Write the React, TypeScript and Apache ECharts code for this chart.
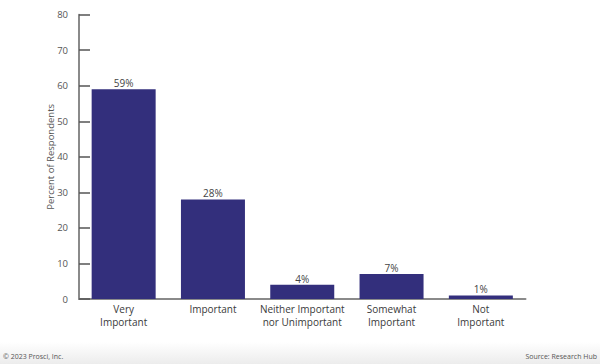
import React, { useEffect, useRef } from "react";
import * as echarts from "echarts";

const categories = ["Very\nImportant", "Important", "Neither Important\nnor Unimportant", "Somewhat\nImportant", "Not\nImportant"];
const values = [59, 28, 4, 7, 1];
const yTicks = { min: 0, max: 80, interval: 10 };
const yAxisName = "Percent of Respondents";
const footerLeft = "© 2023 Prosci, Inc.";
const footerRight = "Source: Research Hub";

export default function App() {
  const ref = useRef<HTMLDivElement>(null);
  useEffect(() => {
    if (!ref.current) return;
    const chart = echarts.init(ref.current, null, { renderer: "svg" });
    const font = "'Open Sans', 'Noto Sans', sans-serif";
    chart.setOption({
      animation: false,
      grid: { left: 79, right: 74.5, top: 14.7, bottom: 65, containLabel: false },
      xAxis: {
        type: "category",
        data: categories,
        axisLine: { lineStyle: { color: "#8a8a8a", width: 2 } },
        axisTick: { show: false },
        axisLabel: { color: "#3a3a3a", fontSize: 10, fontFamily: font, lineHeight: 12.5, margin: 4, interval: 0 },
      },
      yAxis: {
        type: "value",
        min: yTicks.min,
        max: yTicks.max,
        interval: yTicks.interval,
        name: yAxisName,
        nameLocation: "middle",
        nameGap: 24,
        nameMoveOverlap: false,
        nameTextStyle: { color: "#555", fontSize: 9.5, fontFamily: font },
        axisLine: { show: true, lineStyle: { color: "#8a8a8a", width: 2 } },
        axisTick: { show: true, inside: true, length: 11, lineStyle: { color: "#555", width: 1.5 } },
        axisLabel: { color: "#555", fontSize: 9.5, fontFamily: font, margin: 11 },
        splitLine: { show: false },
      },
      series: [
        {
          type: "bar",
          data: values,
          barWidth: 64,
          itemStyle: { color: "#332f7c" },
          label: {
            show: true,
            position: "top",
            formatter: "{c}%",
            color: "#444",
            fontSize: 10,
            fontFamily: font,
            distance: 1,
          },
        },
      ],
      graphic: [
        {
          type: "rect",
          left: 0,
          bottom: 0,
          shape: { width: 600, height: 22 },
          style: {
            fill: new echarts.graphic.LinearGradient(0, 0, 0, 1, [
              { offset: 0, color: "#ffffff" },
              { offset: 1, color: "#ececec" },
            ]),
          },
          z: -1,
        },
        {
          type: "text",
          left: 3,
          top: 353,
          style: { text: footerLeft, fill: "#555", fontSize: 7, fontFamily: font },
        },
        {
          type: "text",
          right: 3,
          top: 353,
          style: { text: footerRight, fill: "#555", fontSize: 7, fontFamily: font },
        },
      ],
    });
    return () => chart.dispose();
  }, []);
  return <div ref={ref} style={{ width: 600, height: 364, position: "absolute", left: 0, top: 0 }} />;
}
